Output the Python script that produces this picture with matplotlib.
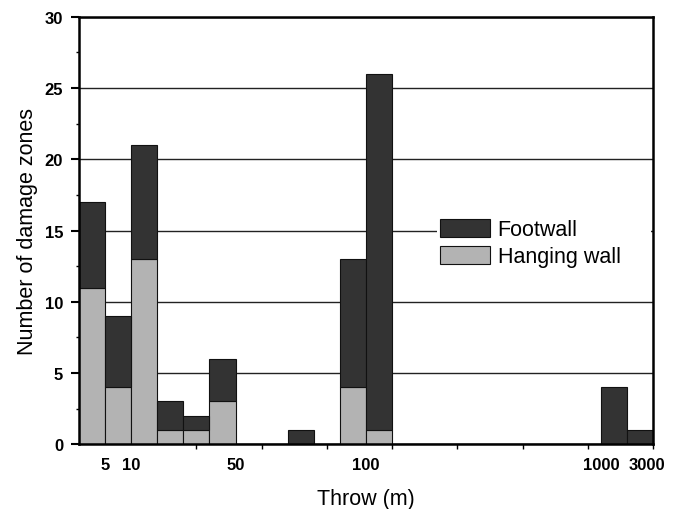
import matplotlib
matplotlib.use("Agg")
import matplotlib.pyplot as plt
import numpy as np

plt.rcParams['font.family'] = ['Liberation Sans', 'DejaVu Sans']

# one slot per throw class, 22 slots on the x axis
hanging_wall = [11, 4, 13, 1, 1, 3, 0, 0, 0, 0, 4, 1,
                0, 0, 0, 0, 0, 0, 0, 0, 0, 0]
footwall = [6, 5, 8, 2, 1, 3, 0, 0, 1, 0, 9, 25,
            0, 0, 0, 0, 0, 0, 0, 0, 4, 1]

tick_labels = ["5", "10", "50", "100", "1000", "3000"]
tick_pos = [1, 2, 6, 11, 20, 21.75]

DARK = '#333333'
LIGHT = '#b3b3b3'

slots = np.arange(len(footwall))
hw = np.array(hanging_wall)
fw = np.array(footwall)

fig = plt.figure(figsize=(6.81, 5.10), dpi=100)
ax = fig.add_axes([0.116, 0.127, 0.843, 0.838])

ax.yaxis.grid(True, color='#222222', linewidth=1.0, zorder=0)
ax.set_axisbelow(True)

ax.bar(slots, hw, width=1.0, align='edge', color=LIGHT,
       edgecolor='#111111', linewidth=0.8, label='Hanging wall', zorder=2)
ax.bar(slots, fw, width=1.0, bottom=hw, align='edge', color=DARK,
       edgecolor='#111111', linewidth=0.8, label='Footwall', zorder=2)

ax.set_xlim(0, len(footwall))
ax.set_ylim(0, 30)

ax.set_yticks(np.arange(0, 31, 5))
ax.set_yticks(np.arange(0, 30.1, 2.5), minor=True)
ax.set_xticks(tick_pos)
ax.set_xticklabels(tick_labels)
ax.set_xticks(np.arange(2, 22.1, 2.5), minor=True)

ax.tick_params(axis='x', which='major', length=0, pad=9, labelsize=12)
ax.tick_params(axis='x', which='minor', length=3.5, width=1.0, direction='out')
ax.tick_params(axis='y', which='major', length=6, width=1.5, pad=5.5, labelsize=12)
ax.tick_params(axis='y', which='minor', length=2.5, width=1.0)
for lab in ax.get_xticklabels() + ax.get_yticklabels():
    lab.set_fontweight('bold')

for sp in ax.spines.values():
    sp.set_linewidth(1.8)
    sp.set_color('black')
    sp.set_zorder(4)

ax.set_ylabel('Number of damage zones', fontsize=15.5, labelpad=5)
ax.set_xlabel('Throw (m)', fontsize=15.5, labelpad=12)

handles, labels = ax.get_legend_handles_labels()
leg = ax.legend(handles[::-1], labels[::-1], loc='upper left',
                bbox_to_anchor=(0.624, 0.41, 0.372, 0.125), mode='expand',
                borderaxespad=0, borderpad=0.15, fontsize=15.5,
                handlelength=2.3, handleheight=0.93, handletextpad=0.36,
                labelspacing=0.25, frameon=True, fancybox=False,
                framealpha=1.0, facecolor='white', edgecolor='none')
leg.set_zorder(3)

fig.savefig('out.png', dpi=100, facecolor='white')
